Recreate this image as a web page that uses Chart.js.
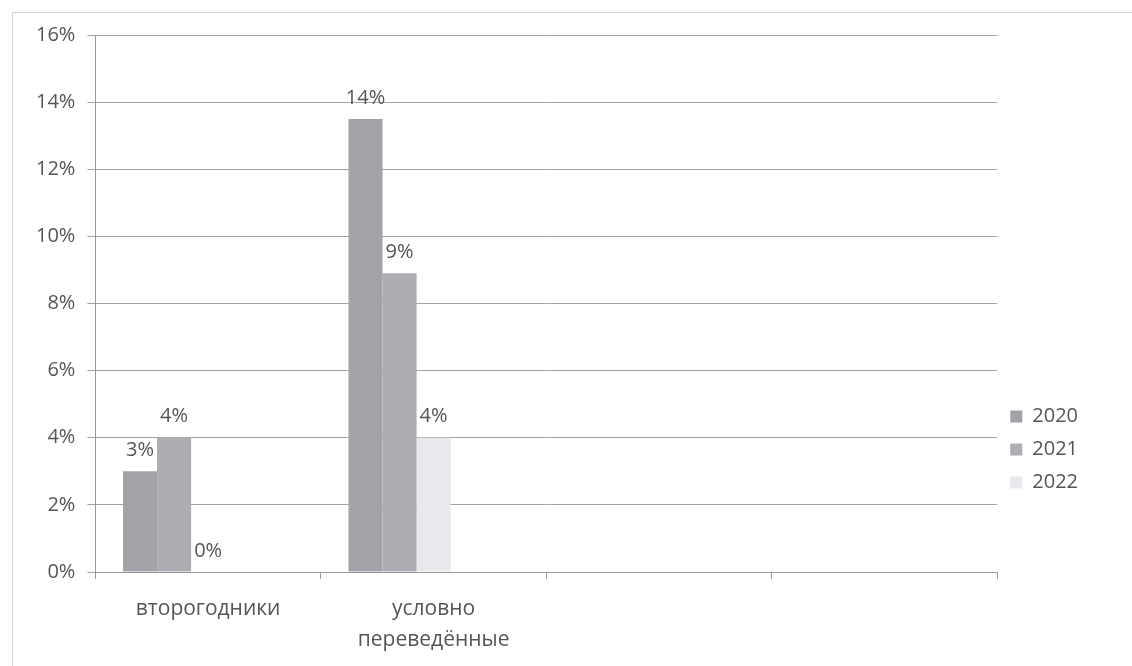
<!DOCTYPE html>
<html lang="ru">
<head>
<meta charset="utf-8">
<title>Второгодники и условно переведённые</title>
<script src="https://cdn.jsdelivr.net/npm/chart.js@4.4.1/dist/chart.umd.min.js"></script>
<style>
  body { margin: 0; background: #fff; }
  #wrap { position: relative; width: 1132px; height: 666px; }
  #frame { position: absolute; left: 12px; top: 12px; right: -2px; bottom: -2px;
           border-left: 1px solid #d4d4d4; border-top: 1px solid #d4d4d4; }
</style>
</head>
<body>
<div id="wrap">
  <div id="frame"></div>
  <canvas id="mycanvas" width="1132" height="666"></canvas>
</div>
<script>
// категории (две последние пустые, как в исходной диаграмме)
const categories = ['второгодники', ['условно', 'переведённые'], '', ''];
const years = ['2020', '2021', '2022'];
const data2020 = [3, 13.5, null, null];
const data2021 = [4, 8.9, null, null];
const data2022 = [0, 4, null, null];
const yTicks = [0, 2, 4, 6, 8, 10, 12, 14, 16];

const textColor = '#555';
const fontName = '"Open Sans", sans-serif';

// подписи значений над столбиками
const barLabels = {
  id: 'barLabels',
  afterDatasetsDraw(chart) {
    const ctx = chart.ctx;
    ctx.save();
    ctx.font = '20px ' + fontName;
    ctx.fillStyle = textColor;
    ctx.textAlign = 'center';
    ctx.textBaseline = 'bottom';
    chart.data.datasets.forEach((ds, i) => {
      if (!ds.showLabels) return;
      chart.getDatasetMeta(i).data.forEach((bar, j) => {
        const v = ds.data[j];
        if (v === null || v === undefined) return;
        ctx.fillText(Math.round(v) + '%', bar.x, bar.y - 11);
      });
    });
    ctx.restore();
  }
};

const ctx_live = document.getElementById('mycanvas');
const myChart = new Chart(ctx_live, {
  type: 'bar',
  data: {
    labels: categories,
    datasets: [
      { label: years[0], data: data2020, backgroundColor: '#a2a2a8', showLabels: true },
      { label: years[1], data: data2021, backgroundColor: '#adadb3', showLabels: true },
      { label: years[2], data: data2022, backgroundColor: '#e9e9ed', showLabels: true },
      // пустые места в группе (в Excel группа смещена влево)
      { label: '', data: [null, null, null, null], backgroundColor: 'rgba(0,0,0,0)' },
      { label: '', data: [null, null, null, null], backgroundColor: 'rgba(0,0,0,0)' }
    ]
  },
  options: {
    responsive: false,
    animation: false,
    devicePixelRatio: 1,
    categoryPercentage: 0.755,
    barPercentage: 1.0,
    layout: { padding: { left: 24, top: 35, right: 44, bottom: -4 } },
    scales: {
      x: {
        offset: true,
        grid: { offset: true, drawOnChartArea: false, drawTicks: true, tickLength: 7, color: '#999' },
        border: { color: '#999' },
        ticks: { color: textColor, font: { family: fontName, size: 21, lineHeight: 1.5 }, padding: 14, maxRotation: 0 }
      },
      y: {
        min: 0,
        max: 16,
        afterBuildTicks(axis) { axis.ticks = yTicks.map(v => ({ value: v })); },
        grid: { color: '#a4a4a4', tickLength: 8 },
        border: { color: '#999' },
        ticks: {
          color: textColor,
          font: { family: fontName, size: 20 },
          padding: 12,
          callback: v => v + '%'
        }
      }
    },
    plugins: {
      legend: {
        position: 'right',
        align: 'start',
        title: { display: true, text: '', padding: { top: 344, bottom: 0 } },
        labels: {
          color: textColor,
          font: { family: fontName, size: 20 },
          boxWidth: 12,
          boxHeight: 12,
          padding: 13,
          filter: item => item.text !== ''
        }
      },
      tooltip: { enabled: false }
    }
  },
  plugins: [barLabels]
});
</script>
</body>
</html>
